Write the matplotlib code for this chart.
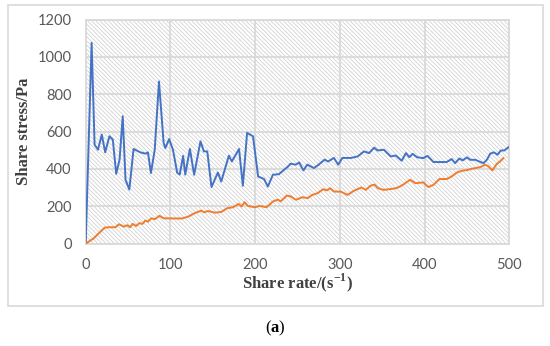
import matplotlib.pyplot as plt
from matplotlib.patches import Rectangle

plt.rcParams['mathtext.fontset'] = 'custom'
plt.rcParams['mathtext.rm'] = 'Liberation Serif'
plt.rcParams['mathtext.bf'] = 'Liberation Serif:bold'
plt.rcParams['hatch.linewidth'] = 0.55
plt.rcParams['hatch.color'] = '#cfcfcf'

# blue curve: share stress vs share rate
blue_x = [0, 7, 10.5, 14.5, 19, 23, 28, 32, 36, 40, 43.7, 47, 51.5, 56.5,
          64.5, 70.5, 73.5, 77, 81.5, 86.5, 92, 94, 98.5, 103, 108, 111,
          115, 117.5, 123, 128, 135.5, 139.5, 143.5, 148.5, 156, 160, 169,
          172.5, 181, 185.5, 190.5, 197.5, 203.5, 210.5, 215, 221, 228, 238,
          242, 248, 252, 257, 261.5, 265.5, 269.5, 275, 282, 286, 293, 298,
          303, 313, 321, 328.5, 334.5, 340.5, 344.5, 352, 360, 366, 373, 378,
          382, 386, 391, 398.5, 403.5, 410.5, 426, 432, 436, 441, 445, 450,
          454, 460, 465, 469.5, 473.5, 477.5, 482, 486, 490, 494, 499]
blue_y = [0, 1075, 530, 503, 584, 489, 575, 557, 374, 450, 682, 342, 290, 507,
          489, 482, 489, 378, 503, 868, 539, 512, 560, 503, 380, 370,
          470, 370, 507, 369, 548, 494, 494, 303, 381, 333, 471,
          440, 507, 310, 593, 575, 360, 346, 306, 369, 372, 410,
          428, 423, 435, 392, 423, 414, 405, 423, 450, 440, 459, 423,
          459, 459, 467, 494, 485, 514, 499, 503, 467, 472, 444, 485,
          463, 481, 463, 458, 470, 437, 437, 453, 431, 456, 446, 462,
          449, 449, 439, 431, 449, 482, 489, 476, 499, 499, 516]

# orange curve
orange_x = [0, 9.5, 15.5, 22.5, 27, 35, 39.5, 45, 49, 52.5, 55.5, 59.5, 63.5,
            67, 70.5, 73.5, 77.5, 81.5, 87, 92, 102, 114, 121, 128.5, 136.5,
            139.5, 144.5, 152.5, 160, 167, 174, 180.5, 184, 187.5, 191.5,
            199.5, 205.5, 213.5, 221, 227, 230, 237.5, 242, 248, 256, 262,
            267.5, 273.5, 280.5, 284.5, 288.5, 293, 301, 309, 316.5, 325.5,
            330.5, 336.5, 341, 345, 351.5, 359, 366.5, 373, 383, 389, 398.5,
            404.5, 410.5, 417.5, 426, 432, 438.5, 444, 450, 454, 460, 466,
            471.5, 475.5, 480, 485, 489, 493]
orange_y = [0, 29, 56, 86, 88, 88, 104, 91, 99, 88, 106, 95, 110,
            106, 124, 118, 136, 131, 149, 136, 135, 135, 145, 163, 177,
            168, 175, 166, 170, 190, 195, 213, 199, 222, 202,
            195, 202, 195, 226, 236, 226, 258, 253, 235, 249, 244,
            261, 270, 292, 285, 297, 279, 279, 261, 283, 301,
            288, 311, 316, 297, 288, 292, 297, 311, 342, 324, 328,
            303, 315, 346, 346, 360, 382, 390, 394, 399, 405, 410,
            423, 414, 392, 426, 440, 458]

fig = plt.figure(figsize=(5.5, 3.46), dpi=100)
fig.patches.append(Rectangle((0.0145, 0.1156), 0.9727, 0.87, transform=fig.transFigure,
                             fill=False, edgecolor='#d9d9d9', linewidth=1.2))

ax = fig.add_axes([0.1558, 0.2957, 0.7702, 0.6479])
ax.add_patch(Rectangle((0, 0), 1, 1, transform=ax.transAxes, facecolor='white',
                       edgecolor='#cfcfcf', hatch='\\' * 8, linewidth=0, zorder=0))

ax.plot(blue_x, blue_y, color='#4472C4', linewidth=1.4, zorder=3)
ax.plot(orange_x, orange_y, color='#ED7D31', linewidth=1.4, zorder=3)

ax.set_xlim(0, 500)
ax.set_ylim(0, 1200)
ax.set_xticks(range(0, 501, 100))
ax.set_yticks(range(0, 1201, 200))
ax.grid(True, color='#d9d9d9', linewidth=1.3, zorder=1)
ax.set_axisbelow(True)
for s in ax.spines.values():
    s.set_color('#d9d9d9')
    s.set_linewidth(1.3)
ax.tick_params(length=0, colors='#595959', labelsize=10.5, pad=10)
for lab in ax.get_xticklabels() + ax.get_yticklabels():
    lab.set_family('Lato')

ax.set_ylabel('Share stress/Pa', family='Liberation Serif', fontweight='bold',
              fontsize=12, color='#404040', labelpad=4)
ax.set_xlabel(r'Share rate/(s$^{\mathbf{-1}}$)', family='Liberation Serif',
              fontweight='bold', fontsize=12, color='#404040', labelpad=0)

fig.text(0.5, 0.052, r'($\mathbf{a}$)', ha='center', va='center',
         family='Liberation Serif', fontsize=12)

fig.savefig('out.png', dpi=100)
